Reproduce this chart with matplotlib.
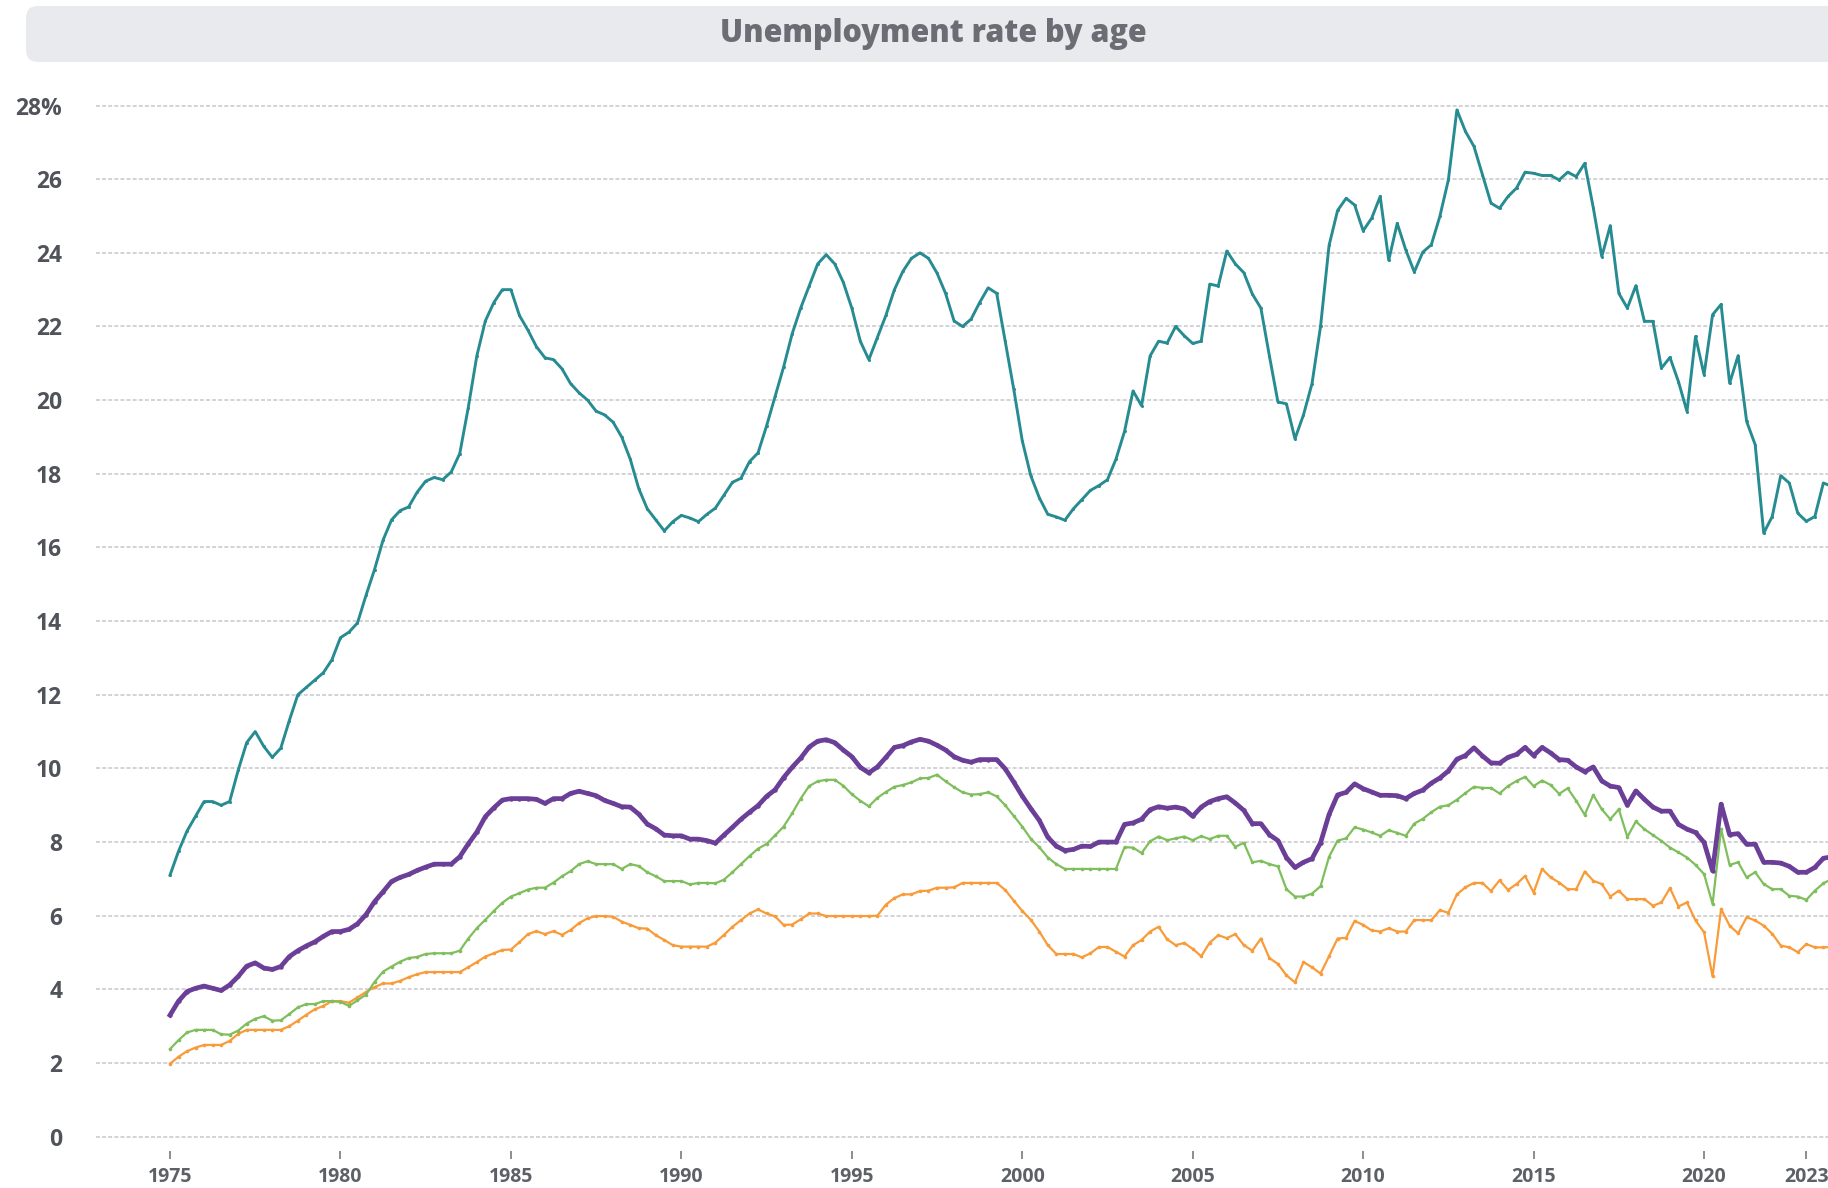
import numpy as np
import matplotlib.pyplot as plt
from matplotlib.patches import FancyBboxPatch

plt.rcParams['font.family'] = ['Open Sans', 'DejaVu Sans']

# quarterly unemployment rates (%), 1975Q1 onwards
rate_15_24 = [
    7.1, 7.75, 8.3, 8.7, 9.1, 9.1, 9.0, 9.1, 9.95, 10.7, 11.0, 10.6,
    10.3, 10.55, 11.3, 12.0, 12.2, 12.4, 12.6, 12.95, 13.55, 13.7, 13.95, 14.7,
    15.4, 16.2, 16.75, 17.0, 17.1, 17.5, 17.8, 17.9, 17.84, 18.05, 18.55, 19.8,
    21.2, 22.15, 22.65, 23.0, 23.0, 22.3, 21.9, 21.45, 21.15, 21.1, 20.85, 20.45,
    20.2, 20.0, 19.7, 19.6, 19.4, 19.0, 18.4, 17.6, 17.05, 16.75, 16.45, 16.7,
    16.87, 16.8, 16.7, 16.9, 17.07, 17.42, 17.77, 17.88, 18.33, 18.57, 19.3, 20.1,
    20.9, 21.8, 22.5, 23.1, 23.7, 23.95, 23.7, 23.2, 22.5, 21.6, 21.1, 21.7,
    22.3, 23.0, 23.5, 23.85, 24.0, 23.85, 23.45, 22.9, 22.15, 22.0, 22.2, 22.65,
    23.05, 22.9, 21.6, 20.3, 18.9, 17.95, 17.35, 16.9, 16.83, 16.74, 17.05, 17.3,
    17.55, 17.68, 17.84, 18.4, 19.15, 20.25, 19.85, 21.2, 21.6, 21.55, 22.0, 21.75,
    21.54, 21.6, 23.15, 23.1, 24.05, 23.7, 23.46, 22.88, 22.5, 21.2, 19.95, 19.9,
    18.95, 19.6, 20.45, 22.0, 24.2, 25.15, 25.48, 25.3, 24.6, 24.94, 25.53, 23.8,
    24.8, 24.08, 23.48, 24.02, 24.22, 24.99, 25.98, 27.88, 27.3, 26.89, 26.12, 25.35,
    25.21, 25.53, 25.76, 26.19, 26.16, 26.1, 26.1, 25.98, 26.19, 26.07, 26.43, 25.23,
    23.9, 24.74, 22.9, 22.5, 23.11, 22.14, 22.14, 20.87, 21.16, 20.5, 19.69, 21.73,
    20.69, 22.32, 22.6, 20.46, 21.21, 19.42, 18.79, 16.39, 16.84, 17.95, 17.75, 16.93,
    16.71, 16.84, 17.75, 17.66,
]
rate_total = [
    3.3, 3.68, 3.94, 4.03, 4.09, 4.03, 3.97, 4.12, 4.35, 4.63, 4.72, 4.58,
    4.54, 4.62, 4.89, 5.05, 5.18, 5.29, 5.44, 5.57, 5.57, 5.63, 5.78, 6.03,
    6.38, 6.65, 6.93, 7.04, 7.12, 7.23, 7.32, 7.4, 7.4, 7.4, 7.6, 7.95,
    8.27, 8.69, 8.93, 9.14, 9.18, 9.18, 9.18, 9.16, 9.05, 9.18, 9.18, 9.32,
    9.38, 9.32, 9.26, 9.13, 9.05, 8.96, 8.95, 8.76, 8.49, 8.36, 8.19, 8.17,
    8.17, 8.08, 8.08, 8.04, 7.97, 8.19, 8.4, 8.62, 8.81, 8.99, 9.24, 9.42,
    9.75, 10.03, 10.28, 10.58, 10.74, 10.78, 10.7, 10.5, 10.32, 10.03, 9.88, 10.04,
    10.3, 10.57, 10.62, 10.72, 10.79, 10.74, 10.63, 10.5, 10.32, 10.22, 10.17, 10.24,
    10.24, 10.24, 9.99, 9.63, 9.25, 8.91, 8.59, 8.13, 7.89, 7.77, 7.8, 7.89,
    7.88, 8.0, 8.0, 8.0, 8.48, 8.52, 8.62, 8.88, 8.96, 8.92, 8.95, 8.9,
    8.7, 8.95, 9.1, 9.18, 9.23, 9.06, 8.86, 8.5, 8.5, 8.2, 8.04, 7.58,
    7.31, 7.45, 7.55, 7.98, 8.75, 9.28, 9.35, 9.58, 9.45, 9.36, 9.27, 9.27,
    9.26, 9.18, 9.32, 9.41, 9.6, 9.74, 9.93, 10.25, 10.35, 10.56, 10.34, 10.15,
    10.14, 10.3, 10.38, 10.57, 10.35, 10.57, 10.42, 10.24, 10.22, 10.04, 9.91, 10.04,
    9.66, 9.52, 9.48, 9.0, 9.39, 9.16, 8.95, 8.84, 8.84, 8.48, 8.35, 8.26,
    7.99, 7.22, 9.03, 8.2, 8.23, 7.94, 7.94, 7.45, 7.45, 7.43, 7.34, 7.18,
    7.18, 7.31, 7.56, 7.6,
]
rate_25_49 = [
    2.38, 2.62, 2.83, 2.9, 2.9, 2.9, 2.78, 2.77, 2.88, 3.07, 3.2, 3.27,
    3.15, 3.16, 3.33, 3.51, 3.6, 3.6, 3.68, 3.68, 3.66, 3.55, 3.7, 3.86,
    4.2, 4.48, 4.62, 4.75, 4.85, 4.88, 4.96, 4.98, 4.98, 4.98, 5.05, 5.38,
    5.66, 5.89, 6.13, 6.35, 6.52, 6.61, 6.71, 6.76, 6.76, 6.9, 7.07, 7.21,
    7.4, 7.48, 7.4, 7.4, 7.4, 7.27, 7.4, 7.35, 7.18, 7.07, 6.94, 6.94,
    6.94, 6.85, 6.89, 6.89, 6.88, 6.98, 7.18, 7.4, 7.62, 7.82, 7.95, 8.18,
    8.42, 8.78, 9.18, 9.52, 9.65, 9.69, 9.69, 9.53, 9.3, 9.12, 8.97, 9.2,
    9.36, 9.5, 9.55, 9.62, 9.73, 9.74, 9.83, 9.65, 9.49, 9.35, 9.29, 9.3,
    9.35, 9.24, 9.0, 8.71, 8.42, 8.09, 7.86, 7.58, 7.4, 7.27, 7.27, 7.27,
    7.27, 7.27, 7.27, 7.27, 7.86, 7.85, 7.7, 8.02, 8.15, 8.05, 8.1, 8.15,
    8.05, 8.16, 8.08, 8.17, 8.17, 7.87, 7.98, 7.45, 7.49, 7.4, 7.34, 6.72,
    6.52, 6.52, 6.6, 6.8, 7.6, 8.04, 8.1, 8.4, 8.34, 8.26, 8.17, 8.32,
    8.25, 8.17, 8.5, 8.63, 8.81, 8.96, 9.0, 9.15, 9.33, 9.5, 9.47, 9.47,
    9.32, 9.52, 9.66, 9.77, 9.52, 9.67, 9.55, 9.31, 9.46, 9.12, 8.74, 9.28,
    8.89, 8.62, 8.89, 8.14, 8.56, 8.35, 8.19, 8.03, 7.85, 7.72, 7.58, 7.38,
    7.13, 6.32, 8.35, 7.38, 7.45, 7.04, 7.18, 6.86, 6.72, 6.72, 6.54, 6.52,
    6.43, 6.68, 6.88, 7.0,
]
rate_50_plus = [
    1.98, 2.17, 2.32, 2.42, 2.49, 2.49, 2.49, 2.6, 2.79, 2.9, 2.9, 2.9,
    2.9, 2.9, 3.0, 3.15, 3.31, 3.46, 3.55, 3.68, 3.68, 3.64, 3.78, 3.93,
    4.06, 4.16, 4.16, 4.23, 4.33, 4.41, 4.47, 4.47, 4.47, 4.47, 4.47, 4.6,
    4.74, 4.89, 4.98, 5.07, 5.08, 5.28, 5.5, 5.58, 5.5, 5.58, 5.48, 5.61,
    5.8, 5.93, 5.99, 5.99, 5.97, 5.84, 5.75, 5.66, 5.65, 5.47, 5.34, 5.2,
    5.16, 5.16, 5.16, 5.16, 5.27, 5.48, 5.7, 5.88, 6.06, 6.17, 6.06, 5.98,
    5.75, 5.76, 5.9, 6.06, 6.06, 5.99, 5.99, 5.99, 5.99, 5.99, 5.99, 6.0,
    6.3, 6.48, 6.58, 6.58, 6.67, 6.68, 6.76, 6.76, 6.77, 6.89, 6.89, 6.89,
    6.89, 6.89, 6.7, 6.41, 6.13, 5.89, 5.57, 5.2, 4.96, 4.96, 4.96, 4.87,
    4.98, 5.15, 5.15, 5.02, 4.89, 5.2, 5.34, 5.57, 5.7, 5.36, 5.2, 5.26,
    5.1, 4.9, 5.27, 5.47, 5.39, 5.5, 5.2, 5.05, 5.38, 4.85, 4.69, 4.38,
    4.19, 4.74, 4.6, 4.43, 4.9, 5.38, 5.4, 5.86, 5.75, 5.6, 5.57, 5.66,
    5.57, 5.57, 5.88, 5.88, 5.88, 6.15, 6.08, 6.58, 6.77, 6.89, 6.89, 6.67,
    6.96, 6.7, 6.86, 7.08, 6.63, 7.27, 7.04, 6.9, 6.72, 6.72, 7.2, 6.95,
    6.86, 6.52, 6.68, 6.45, 6.45, 6.45, 6.27, 6.36, 6.75, 6.25, 6.36, 5.87,
    5.55, 4.35, 6.18, 5.73, 5.52, 5.96, 5.87, 5.73, 5.51, 5.19, 5.14, 5.01,
    5.23, 5.14, 5.14, 5.15,
]

year_ticks = [1975, 1980, 1985, 1990, 1995, 2000, 2005, 2010, 2015, 2020, 2023]
y_ticks = list(range(0, 29, 2))
y_labels = [str(v) for v in y_ticks[:-1]] + ['28%']

quarters = 1975 + 0.25 * np.arange(len(rate_15_24))

fig = plt.figure(figsize=(18.28, 11.88), dpi=100)

# title banner, drawn in pixel coordinates
bg = fig.add_axes([0, 0, 1, 1], zorder=0)
bg.set_xlim(0, 1828)
bg.set_ylim(1188, 0)
bg.axis('off')
bg.add_patch(FancyBboxPatch((26, 6), 1860, 56, boxstyle='round,pad=0,rounding_size=12',
                            fc='#e9eaed', ec='none'))
bg.text(933, 34, 'Unemployment rate by age', ha='center', va='center',
        fontsize=22, fontweight='heavy', color='#6a6d73')

ax = fig.add_axes([0.0523, 0.03081, 0.9477, 0.89276], zorder=1)
ax.patch.set_alpha(0)

ax.plot(quarters, rate_15_24, color='#278c92', lw=2.1, marker='o', ms=2.2, mew=0, zorder=3)
ax.plot(quarters, rate_50_plus, color='#f89b38', lw=1.6, marker='o', ms=2.6, mew=0, zorder=3)
ax.plot(quarters, rate_25_49, color='#7fbe5c', lw=1.6, marker='o', ms=2.6, mew=0, zorder=3)
ax.plot(quarters, rate_total, color='#6b3f98', lw=3.4, marker='o', ms=3.2, mew=0, zorder=4)

ax.set_xlim(1972.818, 2023.636)
ax.set_ylim(-0.4, 28.4)

ax.set_yticks(y_ticks)
ax.set_yticklabels(y_labels, fontsize=16.5, fontweight='bold', color='#50545a')
ax.set_xticks(year_ticks)
ax.set_xticklabels([str(y) for y in year_ticks], fontsize=14, fontweight='bold', color='#5d6166')
ax.tick_params(axis='y', length=0, pad=24)
ax.tick_params(axis='x', length=6, width=1.2, color='#7a7a7a', pad=5)

ax.yaxis.grid(True, color='#c8c8cd', linestyle=(0, (2.6, 1.4)), linewidth=1.1)
ax.set_axisbelow(True)
for s in ax.spines.values():
    s.set_visible(False)

fig.savefig('out.png', dpi=100)
